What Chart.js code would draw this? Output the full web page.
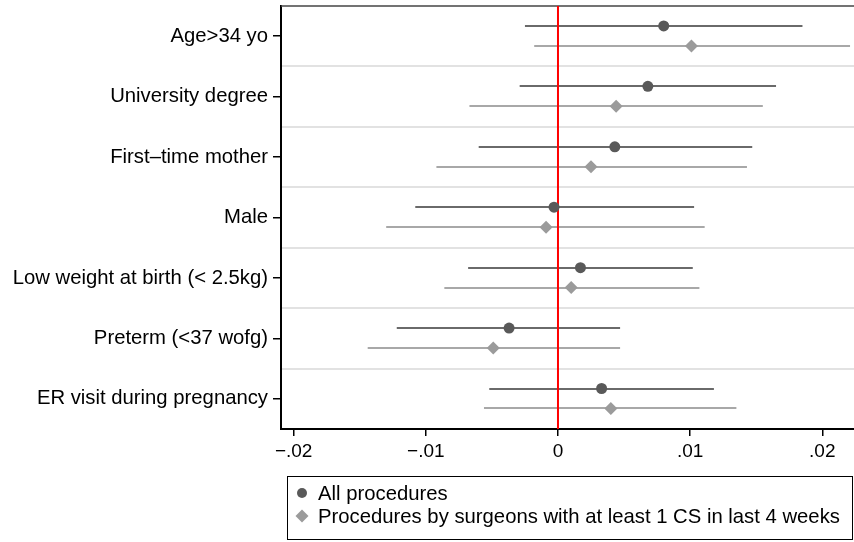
<!DOCTYPE html>
<html>
<head>
<meta charset="utf-8">
<script src="https://cdn.jsdelivr.net/npm/chart.js@4.4.0/dist/chart.umd.min.js"></script>
<style>
  body { margin: 0; background: #fff; }
  #wrap { width: 854px; height: 542px; }
</style>
</head>
<body>
<div id="wrap"><canvas id="coefplot" width="854" height="542"></canvas></div>
<script>
// categories, top to bottom
const categories = ['Age>34 yo', 'University degree', 'First\u2013time mother', 'Male',
    'Low weight at birth (< 2.5kg)', 'Preterm (<37 wofg)', 'ER visit during pregnancy'];

// All procedures
const allCoef = [0.0080, 0.0068, 0.0043, -0.0003, 0.0017, -0.0037, 0.0033];
const allLow  = [-0.0025, -0.0029, -0.0060, -0.0108, -0.0068, -0.0122, -0.0052];
const allHigh = [0.0185, 0.0165, 0.0147, 0.0103, 0.0102, 0.0047, 0.0118];

// Procedures by surgeons with at least 1 CS in last 4 weeks
const csCoef = [0.0101, 0.0044, 0.0025, -0.0009, 0.0010, -0.0049, 0.0040];
const csLow  = [-0.0018, -0.0067, -0.0092, -0.0130, -0.0086, -0.0144, -0.0056];
const csHigh = [0.0221, 0.0155, 0.0143, 0.0111, 0.0107, 0.0047, 0.0135];

const xTicks = [-0.02, -0.01, 0, 0.01, 0.02];

const FONT = 'Liberation Sans, Arial, Helvetica, sans-serif';

function rows(values, shift) {
    return values.map((v, i) => ({ x: v, y: i + 0.5 + shift }));
}

function fmtTick(v) {
    if (Math.abs(v) < 1e-9) return '0';
    const s = Math.abs(v).toFixed(2).replace(/^0/, '');
    return (v < 0 ? '\u2212' : '') + s;
}

// row separators, top frame, CI lines and the zero line
const backdrop = {
    id: 'backdrop',
    beforeDatasetsDraw(chart) {
        const { ctx, chartArea: a, scales: { x, y } } = chart;
        ctx.save();
        ctx.lineWidth = 2;
        ctx.strokeStyle = '#e2e2e2';
        for (let i = 1; i < categories.length; i++) {
            const py = Math.round(y.getPixelForValue(i));
            ctx.beginPath();
            ctx.moveTo(a.left + 1, py);
            ctx.lineTo(a.right, py);
            ctx.stroke();
        }
        ctx.strokeStyle = '#444';
        ctx.lineWidth = 1.5;
        ctx.beginPath();
        ctx.moveTo(a.left, a.top);
        ctx.lineTo(a.right, a.top);
        ctx.stroke();

        chart.data.datasets.forEach(ds => {
            ctx.strokeStyle = ds.ciColor;
            ctx.lineWidth = 2;
            ds.data.forEach((p, i) => {
                const py = Math.round(y.getPixelForValue(p.y));
                ctx.beginPath();
                ctx.moveTo(x.getPixelForValue(ds.ciLow[i]), py);
                ctx.lineTo(x.getPixelForValue(ds.ciHigh[i]), py);
                ctx.stroke();
            });
        });

        const zx = x.getPixelForValue(0);
        ctx.strokeStyle = '#ff0000';
        ctx.lineWidth = 2;
        ctx.beginPath();
        ctx.moveTo(zx, a.top);
        ctx.lineTo(zx, a.bottom);
        ctx.stroke();
        ctx.restore();
    },
    afterDraw(chart) {
        const { ctx, chartArea: a } = chart;
        const left = a.left + 6, top = 476, w = 565, h = 63;
        ctx.save();
        ctx.strokeStyle = '#000';
        ctx.lineWidth = 1;
        ctx.strokeRect(left + 0.5, top + 0.5, w, h);
        ctx.font = '20.3px ' + FONT;
        ctx.textBaseline = 'middle';
        ctx.fillStyle = '#000';
        chart.data.datasets.forEach((ds, i) => {
            const cy = top + 17 + i * 23;
            const cx = left + 15;
            ctx.fillStyle = ds.backgroundColor;
            ctx.beginPath();
            if (ds.pointStyle === 'circle') {
                ctx.arc(cx, cy, 5, 0, Math.PI * 2);
            } else {
                ctx.moveTo(cx, cy - 6.5);
                ctx.lineTo(cx + 6.5, cy);
                ctx.lineTo(cx, cy + 6.5);
                ctx.lineTo(cx - 6.5, cy);
                ctx.closePath();
            }
            ctx.fill();
            ctx.fillStyle = '#000';
            ctx.fillText(ds.label, left + 31, cy + 1);
        });
        ctx.restore();
    }
};

new Chart(document.getElementById('coefplot'), {
    type: 'scatter',
    data: {
        datasets: [{
            label: 'All procedures',
            data: rows(allCoef, -0.17),
            ciLow: allLow,
            ciHigh: allHigh,
            ciColor: '#6a6a6a',
            pointStyle: 'circle',
            pointRadius: 5.5,
            backgroundColor: '#595959',
            borderWidth: 0
        }, {
            label: 'Procedures by surgeons with at least 1 CS in last 4 weeks',
            data: rows(csCoef, 0.16),
            ciLow: csLow,
            ciHigh: csHigh,
            ciColor: '#a8a8a8',
            pointStyle: 'rectRot',
            pointRadius: 6.5,
            backgroundColor: '#9b9b9b',
            borderWidth: 0
        }]
    },
    options: {
        responsive: false,
        animation: false,
        layout: { autoPadding: false, padding: { top: 6, right: 0, left: 0, bottom: 0 } },
        plugins: { legend: { display: false }, tooltip: { enabled: false } },
        scales: {
            x: {
                type: 'linear',
                min: -0.02096,
                max: 0.0224,
                afterBuildTicks: s => { s.ticks = xTicks.map(v => ({ value: v })); },
                afterFit: s => { s.height = 113; s.paddingLeft = 0; s.paddingRight = 0; },
                border: { color: '#000', width: 2 },
                grid: { drawOnChartArea: false, color: '#000', tickLength: 7, lineWidth: 1.5 },
                ticks: {
                    color: '#000', padding: 4, maxRotation: 0,
                    font: { family: FONT, size: 19 },
                    callback: v => fmtTick(v)
                }
            },
            y: {
                type: 'linear',
                reverse: true,
                min: 0,
                max: categories.length,
                afterBuildTicks: s => { s.ticks = categories.map((c, i) => ({ value: i + 0.5 })); },
                afterFit: s => { s.width = 281; s.paddingTop = 0; s.paddingBottom = 0; },
                border: { color: '#000', width: 2 },
                grid: { drawOnChartArea: false, color: '#000', tickLength: 8, lineWidth: 1.5 },
                ticks: {
                    color: '#000', padding: 5,
                    font: { family: FONT, size: 20.3 },
                    callback: v => categories[Math.floor(v)]
                }
            }
        }
    },
    plugins: [backdrop]
});
</script>
</body>
</html>
